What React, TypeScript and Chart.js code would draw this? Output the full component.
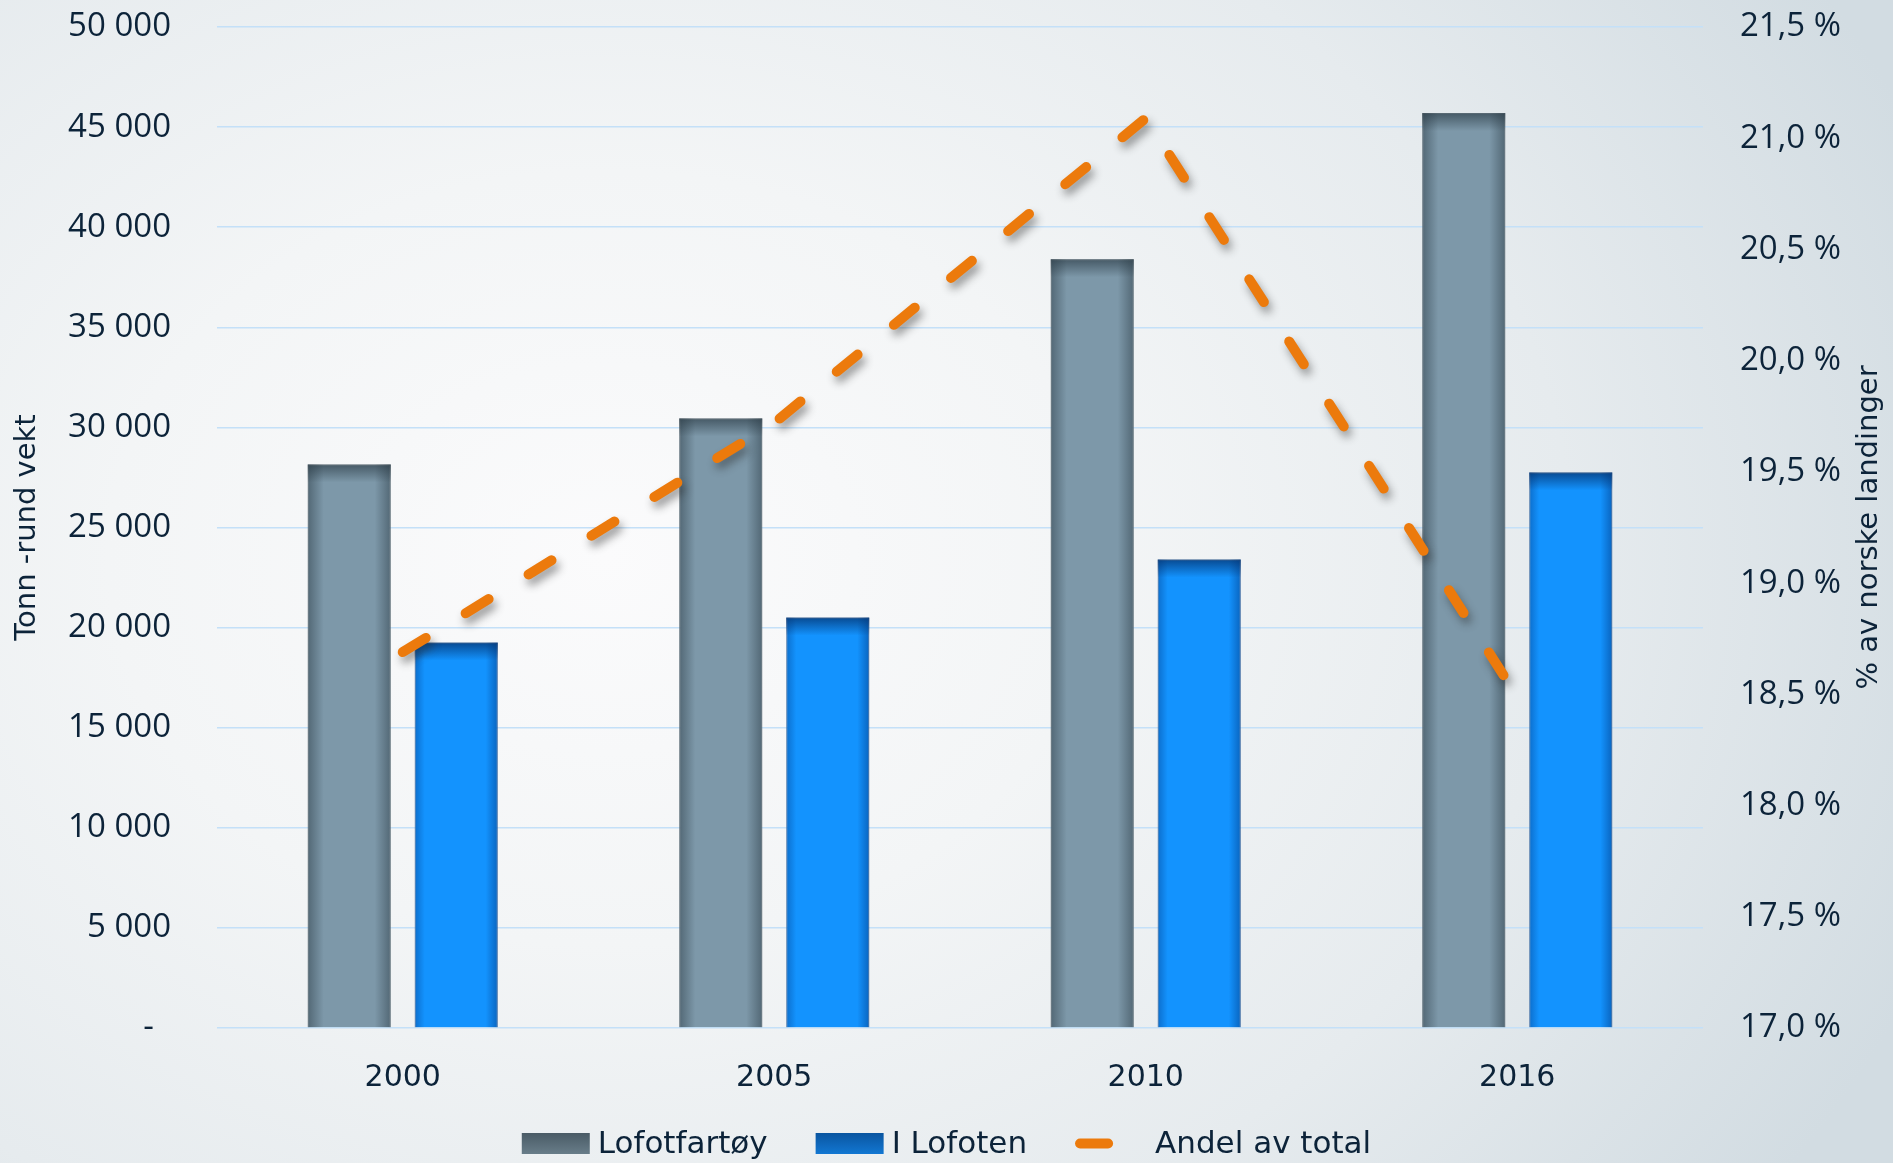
import React, { useEffect, useRef } from 'react';
import { Chart, registerables } from 'chart.js';

Chart.register(...registerables);

// ---- data ----
const years = ['2000', '2005', '2010', '2016'];
const lofotfartoy = [28150, 30450, 38400, 45700];
const iLofoten = [19250, 20500, 23400, 27750];
const andelAvTotal = [18.69, 19.72, 21.09, 18.49];
const seriesLabels = ['Lofotfartøy', 'I Lofoten', 'Andel av total'];
const leftTitle = 'Tonn -rund vekt';
const rightTitle = '% av norske landinger';

// ---- styles ----
const W = 1893;
const H = 1163;
const TEXT = '#0c2339';
const GRAY = '#7d98a9';
const BLUE = '#1393fe';
const ORANGE = '#ec7a0c';
const GRID = '#c4e0f8';
const NUM_FONT = '"Open Sans", "DejaVu Sans", sans-serif';
const HAND_FONT = '"DejaVu Sans", "Open Sans", sans-serif';

const fmtTon = (v: number) =>
  v === 0 ? '-  ' : String(Math.round(v)).replace(/\B(?=(\d{3})+(?!\d))/g, ' ');
const fmtPct = (v: number) => v.toFixed(1).replace('.', ',') + ' %';

const decorPlugin = {
  id: 'decor',
  beforeDatasetDraw(chart: any, args: any) {
    const ds = chart.data.datasets[args.index];
    if (ds.type === 'line') {
      const ctx = chart.ctx;
      ctx.save();
      ctx.shadowColor = 'rgba(40,40,40,0.45)';
      ctx.shadowBlur = 8;
      ctx.shadowOffsetX = 3;
      ctx.shadowOffsetY = 6;
    }
  },
  afterDatasetDraw(chart: any, args: any) {
    const ctx = chart.ctx;
    const ds = chart.data.datasets[args.index];
    if (ds.type === 'line') {
      ctx.restore();
      return;
    }
    const isGray = args.index === 0;
    const grad = (x0: number, y0: number, x1: number, y1: number, c0: string, c1: string) => {
      const g = ctx.createLinearGradient(x0, y0, x1, y1);
      g.addColorStop(0, c0);
      g.addColorStop(1, c1);
      return g;
    };
    ctx.save();
    args.meta.data.forEach((el: any) => {
      const p = el.getProps(['x', 'y', 'base', 'width'], true);
      const l = p.x - p.width / 2;
      const r = p.x + p.width / 2;
      const t = Math.min(p.y, p.base);
      const b = Math.max(p.y, p.base);
      if (isGray) {
        const dark = 'rgba(40,56,66,0.5)';
        const clear = 'rgba(40,56,66,0)';
        ctx.fillStyle = grad(l, 0, l + 16, 0, dark, clear);
        ctx.fillRect(l, t, 16, b - t);
        ctx.fillStyle = grad(r, 0, r - 16, 0, dark, clear);
        ctx.fillRect(r - 16, t, 16, b - t);
        ctx.fillStyle = grad(0, t, 0, t + 18, 'rgba(40,56,66,0.65)', clear);
        ctx.fillRect(l, t, r - l, 18);
      } else {
        const dark = 'rgba(0,55,130,0.4)';
        const clear = 'rgba(0,55,130,0)';
        ctx.fillStyle = grad(l, 0, l + 10, 0, dark, clear);
        ctx.fillRect(l, t, 10, b - t);
        ctx.fillStyle = grad(r, 0, r - 12, 0, 'rgba(0,55,130,0.5)', clear);
        ctx.fillRect(r - 12, t, 12, b - t);
        ctx.fillStyle = grad(0, t, 0, t + 18, 'rgba(4,50,110,0.75)', 'rgba(4,50,110,0)');
        ctx.fillRect(l, t, r - l, 18);
      }
    });
    ctx.restore();
  },
  afterDraw(chart: any) {
    const ctx = chart.ctx;
    const area = chart.chartArea;
    // right axis title, reading bottom to top
    ctx.save();
    ctx.fillStyle = TEXT;
    ctx.font = `29px ${HAND_FONT}`;
    ctx.textAlign = 'center';
    ctx.textBaseline = 'middle';
    ctx.translate(W - 24, (area.top + area.bottom) / 2);
    ctx.rotate(-Math.PI / 2);
    ctx.fillText(rightTitle, 0, 0);
    ctx.restore();

    // legend
    ctx.save();
    ctx.font = `31px ${HAND_FONT}`;
    ctx.textBaseline = 'middle';
    ctx.textAlign = 'left';
    const y = 1143.5;
    const boxW = 68;
    const boxH = 21;
    const items = seriesLabels.map((label, i) => {
      const tw = ctx.measureText(label).width;
      const sw = i === 2 ? 80 : boxW + 8;
      return { label, i, tw, sw, w: sw + tw };
    });
    const gap = 48;
    const total = items.reduce((s, it) => s + it.w, 0) + gap * (items.length - 1);
    let x = W / 2 - total / 2;
    items.forEach((it) => {
      if (it.i === 0) {
        const g = ctx.createLinearGradient(0, y - boxH / 2, 0, y + boxH / 2);
        g.addColorStop(0, '#4a5b66');
        g.addColorStop(1, '#687d89');
        ctx.fillStyle = g;
        ctx.fillRect(x, y - boxH / 2, boxW, boxH);
      } else if (it.i === 1) {
        const g = ctx.createLinearGradient(0, y - boxH / 2, 0, y + boxH / 2);
        g.addColorStop(0, '#0a55a0');
        g.addColorStop(1, '#1277d2');
        ctx.fillStyle = g;
        ctx.fillRect(x, y - boxH / 2, boxW, boxH);
      } else {
        ctx.strokeStyle = ORANGE;
        ctx.lineWidth = 10;
        ctx.lineCap = 'round';
        ctx.beginPath();
        ctx.moveTo(x + 5, y);
        ctx.lineTo(x + 33, y);
        ctx.stroke();
      }
      ctx.fillStyle = TEXT;
      ctx.fillText(it.label, x + it.sw, y + 1);
      x += it.w + gap;
    });
    ctx.restore();
  },
};

export default function App() {
  const ref = useRef<HTMLCanvasElement>(null);

  useEffect(() => {
    const canvas = ref.current;
    if (!canvas) return;
    const chart = new Chart(canvas, {
      type: 'bar',
      data: {
        labels: years,
        datasets: [
          {
            type: 'bar',
            label: seriesLabels[0],
            data: lofotfartoy,
            backgroundColor: GRAY,
            borderColor: 'rgba(150,168,180,0.9)',
            borderWidth: 1,
            barPercentage: 0.776,
            categoryPercentage: 0.576,
            yAxisID: 'y',
            order: 1,
          },
          {
            type: 'bar',
            label: seriesLabels[1],
            data: iLofoten,
            backgroundColor: BLUE,
            borderColor: 'rgba(120,160,195,0.9)',
            borderWidth: 1,
            barPercentage: 0.776,
            categoryPercentage: 0.576,
            yAxisID: 'y',
            order: 1,
          },
          {
            type: 'line',
            label: seriesLabels[2],
            data: andelAvTotal,
            borderColor: ORANGE,
            backgroundColor: ORANGE,
            borderWidth: 10,
            borderDash: [27, 46.9],
            borderCapStyle: 'round',
            borderJoinStyle: 'round',
            pointRadius: 0,
            pointHoverRadius: 0,
            tension: 0,
            fill: false,
            yAxisID: 'y1',
            order: 0,
          },
        ] as any,
      },
      options: {
        responsive: false,
        animation: false,
        devicePixelRatio: 1,
        layout: { padding: { top: 27, bottom: 0, left: 0, right: 0 } },
        plugins: {
          legend: { display: false },
          tooltip: { enabled: false },
        },
        scales: {
          x: {
            ticks: {
              padding: 32,
              color: TEXT,
              font: { family: HAND_FONT, size: 30 },
            },
            grid: { display: false, drawTicks: false },
            border: { display: false },
            afterFit: (s: any) => {
              s.height = 135;
            },
          },
          y: {
            position: 'left',
            min: 0,
            max: 50000,
            ticks: {
              stepSize: 5000,
              padding: 6,
              color: TEXT,
              font: { family: NUM_FONT, size: 33 },
              callback: (v: any) => fmtTon(Number(v)),
            },
            grid: {
              color: GRID,
              lineWidth: 1.6,
              drawTicks: true,
              tickLength: 40,
              tickColor: 'rgba(0,0,0,0)',
            },
            border: { display: false },
            title: {
              display: true,
              text: leftTitle,
              color: TEXT,
              font: { family: HAND_FONT, size: 29 },
              padding: { top: 10, bottom: 0 },
            },
            afterFit: (s: any) => {
              s.width = 217;
            },
          },
          y1: {
            position: 'right',
            min: 17,
            max: 21.5,
            ticks: {
              stepSize: 0.5,
              padding: 6,
              color: TEXT,
              font: { family: NUM_FONT, size: 33 },
              callback: (v: any) => fmtPct(Number(v)),
            },
            grid: {
              display: true,
              drawOnChartArea: false,
              color: 'rgba(0,0,0,0)',
              drawTicks: true,
              tickLength: 31,
              tickColor: 'rgba(0,0,0,0)',
            },
            border: { display: false },
            afterFit: (s: any) => {
              s.width = 190;
            },
          },
        },
      } as any,
      plugins: [decorPlugin as any],
    });
    return () => chart.destroy();
  }, []);

  return (
    <div
      style={{
        position: 'fixed',
        left: 0,
        top: 0,
        width: W,
        height: H,
        background:
          'radial-gradient(ellipse 75% 95% at 32% 48%, #fbfbfc 0%, #f3f5f6 35%, #e6ebee 68%, #d2dce2 100%)',
      }}
    >
      <canvas ref={ref} width={W} height={H} style={{ width: W, height: H, display: 'block' }} />
    </div>
  );
}
